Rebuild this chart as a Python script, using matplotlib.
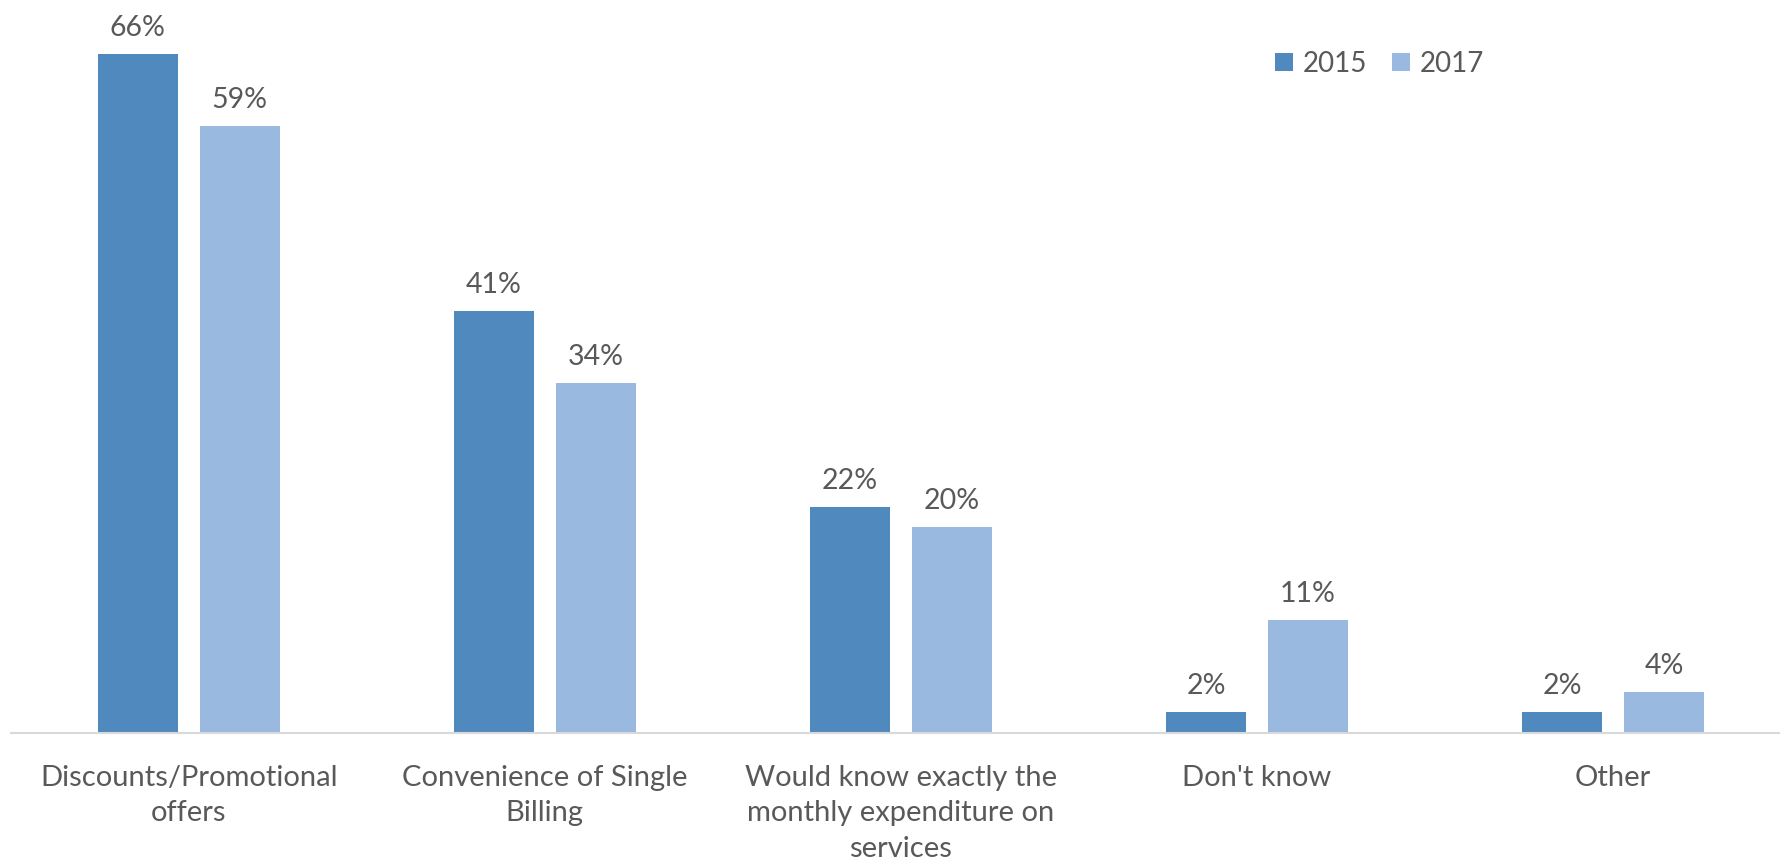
import matplotlib.pyplot as plt
import numpy as np

# survey data: reasons for choosing a bundled service
categories = ["Discounts/Promotional\noffers",
              "Convenience of Single\nBilling",
              "Would know exactly the\nmonthly expenditure on\nservices",
              "Don't know",
              "Other"]
values_2015 = [66, 41, 22, 2, 2]
values_2017 = [59, 34, 20, 11, 4]

c2015 = '#4F89BD'
c2017 = '#9AB9E0'
txt = '#595959'

plt.rcParams['font.family'] = ['Lato', 'DejaVu Sans']

fig = plt.figure(figsize=(17.81, 8.66), dpi=100)
ax = fig.add_axes([10.7 / 1781, 1 - 733 / 866, 1780.5 / 1781, 733 / 866])

x = np.arange(len(categories))
w = 0.225
off = 0.143
b1 = ax.bar(x - off, values_2015, w, color=c2015, label='2015')
b2 = ax.bar(x + off, values_2017, w, color=c2017, label='2017')

for bars in (b1, b2):
    for b in bars:
        ax.annotate(f"{b.get_height():.0f}%",
                    (b.get_x() + b.get_width() / 2, b.get_height()),
                    xytext=(0, 13), textcoords='offset pixels',
                    ha='center', va='bottom', fontsize=20.5, color=txt)

ax.set_xlim(-0.5, len(categories) - 0.5)
ax.set_ylim(0, 71.2)
ax.set_xticks(x)
ax.set_xticklabels(categories, fontsize=21, color=txt, linespacing=1.45)
ax.tick_params(axis='x', length=0, pad=23)
ax.set_yticks([])
for s in ['top', 'right', 'left']:
    ax.spines[s].set_visible(False)
ax.spines['bottom'].set_color('#D9D9D9')
ax.spines['bottom'].set_linewidth(1.5)

leg = ax.legend(loc='upper left', bbox_to_anchor=(1264 / 1781 - 10.7 / 1781, 1 - 47 / 866),
                ncol=2, frameon=False, fontsize=20, handlelength=0.65, handleheight=0.65,
                handletextpad=0.35, columnspacing=0.9, borderaxespad=0)
for t in leg.get_texts():
    t.set_color(txt)

fig.savefig('out.png', dpi=100)
